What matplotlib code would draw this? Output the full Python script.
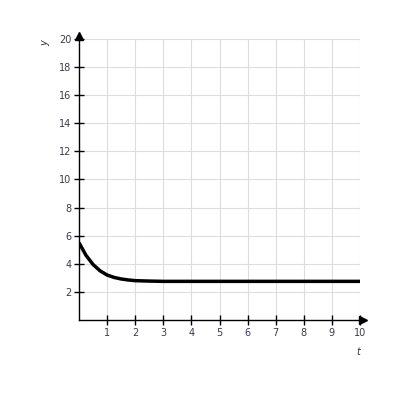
import numpy as np
import matplotlib.pyplot as plt

# values
t_vals = [0, 0.25, 0.5, 0.75, 1, 1.25, 1.5, 1.75, 2, 2.5, 3, 4, 5, 6, 7, 8, 9, 10]
y_vals = [5.5, 4.6, 3.95, 3.5, 3.2, 3.03, 2.92, 2.85, 2.8, 2.77, 2.75, 2.75,
          2.75, 2.75, 2.75, 2.75, 2.75, 2.75]

x_ticks = list(range(1, 11))
y_ticks = list(range(2, 21, 2))

fig = plt.figure(figsize=(4, 4), dpi=100)
ax = fig.add_axes([0.1975, 0.2, 0.7025, 0.7025])

ax.plot(t_vals, y_vals, color='black', lw=2.5, solid_capstyle='butt', zorder=3)

ax.set_xlim(0, 10)
ax.set_ylim(0, 20)
ax.set_xticks(x_ticks)
ax.set_yticks(y_ticks)
ax.grid(True, color='#dddddd', lw=0.8)
ax.set_axisbelow(True)

for s in ['top', 'right']:
    ax.spines[s].set_visible(False)
for s in ['left', 'bottom']:
    ax.spines[s].set_color('black')
    ax.spines[s].set_linewidth(1.0)

ax.tick_params(direction='inout', length=7, width=1, colors='black',
               labelsize=7, labelcolor='#3a3a4a', pad=2)

# arrow heads on the axes, just past the ends
ax.plot(1.012, 0, '>k', ms=6, transform=ax.transAxes, clip_on=False)
ax.plot(0, 1.012, '^k', ms=6, transform=ax.transAxes, clip_on=False)

fig.text(0.113, 0.893, 'y', fontsize=7, style='italic', rotation=90,
         ha='center', va='center', color='#333333')
fig.text(0.895, 0.12, 't', fontsize=7, style='italic',
         ha='center', va='center', color='#333333')

fig.savefig('out.png', dpi=100)
